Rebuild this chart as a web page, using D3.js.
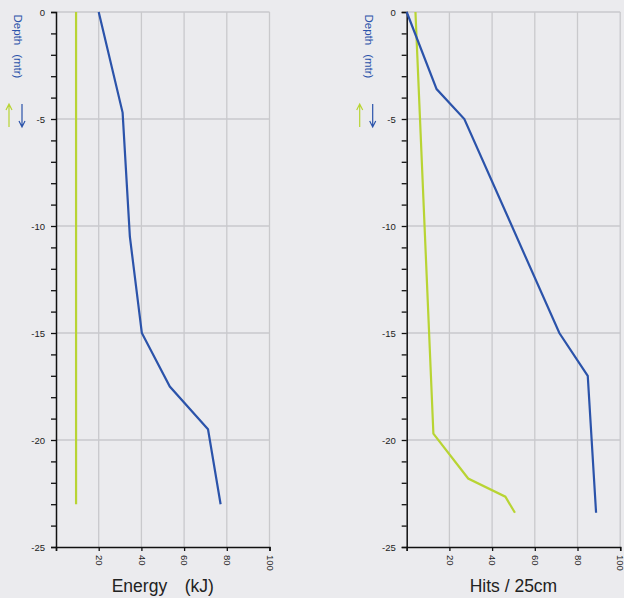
<!DOCTYPE html>
<html>
<head>
<meta charset="utf-8">
<script src="https://cdn.jsdelivr.net/npm/d3@7"></script>
<style>
  html, body { margin: 0; padding: 0; background: #ebebee; }
  svg { display: block; font-family: "Liberation Sans", Arial, sans-serif; }
</style>
</head>
<body>
<div id="chart"></div>
<script>
const xTicks = [20, 40, 60, 80, 100];
const depthLabels = [0, -5, -10, -15, -20, -25];
const depthMinor = d3.range(0, -26, -1);

// Energy panel
const energyGreenX = [9.4, 9.4];
const energyGreenDepth = [0, -23];
const energyBlueX = [20, 31.2, 34.6, 40.2, 53.3, 71.2, 77.1];
const energyBlueDepth = [0, -4.7, -10.5, -15, -17.5, -19.5, -23];

// Hits panel
const hitsGreenX = [4.1, 12.5, 28.8, 46.2, 50.7];
const hitsGreenDepth = [0, -19.7, -21.8, -22.65, -23.4];
const hitsBlueX = [0, 14, 27, 71.5, 84.8, 88.7];
const hitsBlueDepth = [0, -3.6, -5, -15, -17, -23.4];

const panels = [
  { left: 56, title: "Energy\u2002\u2002(kJ)", green: [energyGreenX, energyGreenDepth], blue: [energyBlueX, energyBlueDepth] },
  { left: 406.7, title: "Hits / 25cm", green: [hitsGreenX, hitsGreenDepth], blue: [hitsBlueX, hitsBlueDepth] }
];

const width = 624, height = 598;
const plotTop = 12, plotBottom = 547, plotW = 213.5;
const blue = "#2b53aa", green = "#b8d433", grid = "#c9c9cc";

const svg = d3.select("#chart").append("svg")
  .attr("width", width).attr("height", height);

panels.forEach(p => {
  const x = d3.scaleLinear().domain([0, 100]).range([p.left, p.left + plotW]);
  const y = d3.scaleLinear().domain([0, -25]).range([plotTop, plotBottom]);
  const g = svg.append("g");

  // grid
  g.selectAll(".vg").data(xTicks).join("line")
    .attr("x1", d => x(d)).attr("x2", d => x(d))
    .attr("y1", plotTop).attr("y2", plotBottom)
    .attr("stroke", grid).attr("stroke-width", 1.3);
  g.selectAll(".hg").data(depthLabels.slice(0, -1)).join("line")
    .attr("x1", p.left).attr("x2", p.left + plotW)
    .attr("y1", d => y(d)).attr("y2", d => y(d))
    .attr("stroke", grid).attr("stroke-width", 1.3);

  // y axis
  const ya = g.append("g").attr("transform", `translate(${p.left},0)`)
    .call(d3.axisLeft(y).tickValues(depthMinor).tickSize(5)
      .tickFormat(d => d % 5 === 0 ? String(d) : ""));
  ya.select(".domain").attr("stroke", "#111").attr("stroke-width", 1.5);
  ya.selectAll(".tick line").attr("stroke", "#111").attr("stroke-width", 1.3);
  ya.selectAll("text").attr("font-size", 9.5).attr("fill", "#222").attr("x", -11);

  // x axis
  const xa = g.append("g").attr("transform", `translate(0,${plotBottom})`)
    .call(d3.axisBottom(x).tickValues([0].concat(xTicks)).tickSize(4).tickFormat(d => d === 0 ? "" : d));
  xa.select(".domain").attr("stroke", "#111").attr("stroke-width", 1.5);
  xa.selectAll(".tick line").attr("stroke", "#111").attr("stroke-width", 1.3);
  xa.selectAll("text")
    .attr("font-size", 9.5).attr("fill", "#222")
    .attr("transform", "rotate(90)")
    .attr("text-anchor", "start").attr("dy", "0.35em")
    .attr("x", 8).attr("y", 0);

  // title
  g.append("text").attr("x", x(50)).attr("y", 592)
    .attr("text-anchor", "middle").attr("font-size", 17.5).attr("fill", "#222")
    .text(p.title);

  // y label
  g.append("text")
    .attr("transform", `translate(${p.left - 38},14.5) rotate(90)`)
    .attr("font-size", 11.5).attr("fill", blue)
    .attr("dy", "0.35em")
    .text("Depth\u2002 (mtr)");

  // arrows
  const ax1 = p.left - 47, ax2 = p.left - 34;
  g.append("path").attr("d", `M${ax1},127 V104 M${ax1 - 3},110 L${ax1},104 L${ax1 + 3},110`)
    .attr("fill", "none").attr("stroke", green).attr("stroke-width", 1.2);
  g.append("path").attr("d", `M${ax2},104 V127 M${ax2 - 3},121 L${ax2},127 L${ax2 + 3},121`)
    .attr("fill", "none").attr("stroke", blue).attr("stroke-width", 1.2);

  // series
  const line = d3.line().x(d => x(d[0])).y(d => y(d[1]));
  g.append("path").datum(d3.zip(p.green[0], p.green[1]))
    .attr("d", line).attr("fill", "none").attr("stroke", green).attr("stroke-width", 2.2);
  g.append("path").datum(d3.zip(p.blue[0], p.blue[1]))
    .attr("d", line).attr("fill", "none").attr("stroke", blue).attr("stroke-width", 2.2);
});
</script>
</body>
</html>
